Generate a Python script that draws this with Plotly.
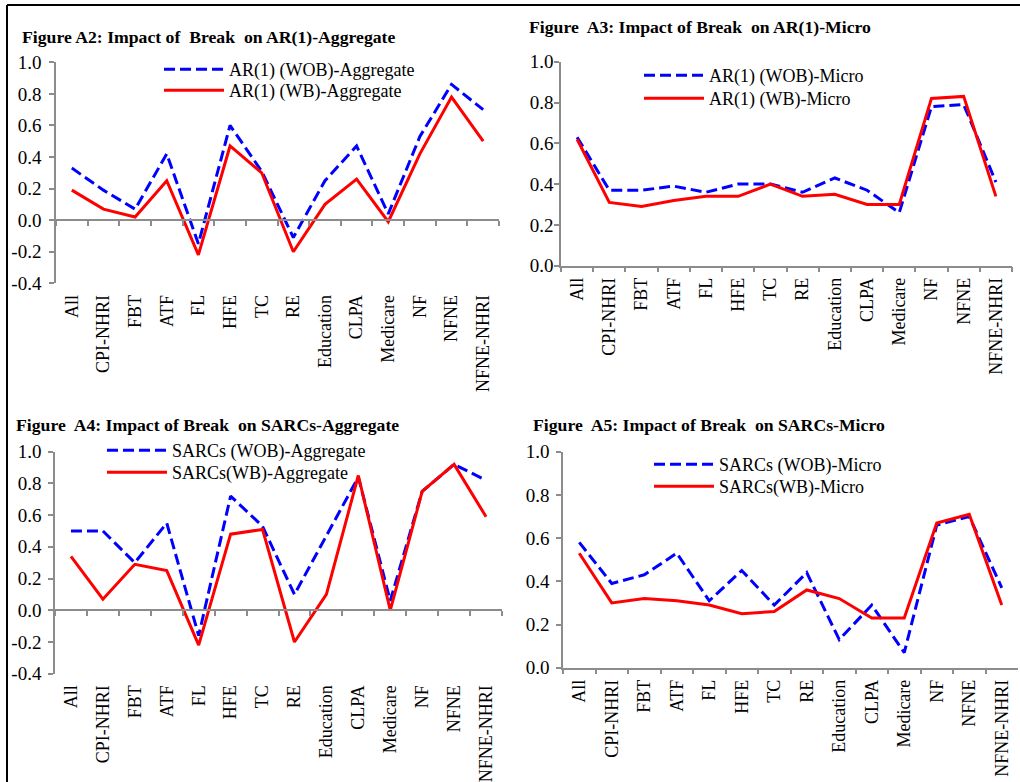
import plotly.graph_objects as go

categories = ["All", "CPI-NHRI", "FBT", "ATF", "FL", "HFE", "TC", "RE",
              "Education", "CLPA", "Medicare", "NF", "NFNE", "NFNE-NHRI"]

ar1_agg_wob = [0.33, 0.19, 0.07, 0.42, -0.15, 0.60, 0.31, -0.11, 0.25, 0.47, 0.04, 0.53, 0.86, 0.70]
ar1_agg_wb = [0.19, 0.07, 0.02, 0.25, -0.22, 0.47, 0.30, -0.20, 0.10, 0.26, -0.01, 0.42, 0.78, 0.50]
ar1_mic_wob = [0.63, 0.37, 0.37, 0.39, 0.36, 0.40, 0.40, 0.36, 0.43, 0.37, 0.26, 0.78, 0.79, 0.41]
ar1_mic_wb = [0.62, 0.31, 0.29, 0.32, 0.34, 0.34, 0.40, 0.34, 0.35, 0.30, 0.30, 0.82, 0.83, 0.34]
sarc_agg_wob = [0.50, 0.50, 0.30, 0.55, -0.16, 0.72, 0.53, 0.10, 0.47, 0.84, 0.06, 0.75, 0.92, 0.82]
sarc_agg_wb = [0.34, 0.07, 0.29, 0.25, -0.22, 0.48, 0.51, -0.20, 0.10, 0.85, 0.00, 0.75, 0.92, 0.59]
sarc_mic_wob = [0.58, 0.39, 0.43, 0.53, 0.31, 0.45, 0.29, 0.44, 0.13, 0.29, 0.07, 0.66, 0.70, 0.37]
sarc_mic_wb = [0.53, 0.30, 0.32, 0.31, 0.29, 0.25, 0.26, 0.36, 0.32, 0.23, 0.23, 0.67, 0.71, 0.29]

ytick_vals_agg = [-0.4, -0.2, 0.0, 0.2, 0.4, 0.6, 0.8, 1.0]
ytick_text_agg = ["-0.4", "-0.2", "0.0", "0.2", "0.4", "0.6", "0.8", "1.0"]
ytick_vals_mic = [0.0, 0.2, 0.4, 0.6, 0.8, 1.0]
ytick_text_mic = ["0.0", "0.2", "0.4", "0.6", "0.8", "1.0"]

titles = ["Figure A2: Impact of  Break  on AR(1)-Aggregate",
          "Figure  A3: Impact of Break  on AR(1)-Micro",
          "Figure  A4: Impact of Break  on SARCs-Aggregate",
          "Figure  A5: Impact of Break  on SARCs-Micro"]
names_wob = ["AR(1) (WOB)-Aggregate", "AR(1) (WOB)-Micro",
             "SARCs (WOB)-Aggregate", "SARCs (WOB)-Micro"]
names_wb = ["AR(1) (WB)-Aggregate", "AR(1) (WB)-Micro",
            "SARCs(WB)-Aggregate", "SARCs(WB)-Micro"]
wob_series = [ar1_agg_wob, ar1_mic_wob, sarc_agg_wob, sarc_mic_wob]
wb_series = [ar1_agg_wb, ar1_mic_wb, sarc_agg_wb, sarc_mic_wb]

W, H = 1020, 782
FONT = "Liberation Serif, Times New Roman, serif"
GRAY = "#8c8c8c"
BLUE = "#0000ff"
RED = "#ff0000"


def px(x):
    return x / W


def py(y):
    return 1 - y / H


# panel layout in pixels
panels = [
    dict(x0=56, x1=499, yt=62.3, yb=283.3, rng=[-0.4, 1.0], leg_x=163, leg_rows=(71, 92), tit=(22, 37), ysoff=4),
    dict(x0=561, x1=1012, yt=61.7, yb=265.7, rng=[0.0, 1.0], leg_x=643, leg_rows=(77, 100), tit=(529, 27), ysoff=-3),
    dict(x0=55, x1=502, yt=451.7, yb=673.7, rng=[-0.4, 1.0], leg_x=106, leg_rows=(452, 474), tit=(16, 425), ysoff=3),
    dict(x0=563, x1=1018, yt=451.7, yb=667.7, rng=[0.0, 1.0], leg_x=653, leg_rows=(466, 488), tit=(533, 425), ysoff=3),
]

fig = go.Figure()
layout = dict(
    width=W, height=H,
    margin=dict(l=0, r=0, t=0, b=0, autoexpand=False),
    paper_bgcolor="white", plot_bgcolor="white",
    font=dict(family=FONT, size=18, color="black"),
    showlegend=True,
    annotations=[], shapes=[],
)

for i, p in enumerate(panels):
    n = i + 1
    xa = "x" if n == 1 else f"x{n}"
    ya = "y" if n == 1 else f"y{n}"
    xkey = "xaxis" if n == 1 else f"xaxis{n}"
    ykey = "yaxis" if n == 1 else f"yaxis{n}"
    leg_a = "legend" if n == 1 else f"legend{2 * n - 1}"
    leg_b = f"legend{2 * n}"
    has_neg = p["rng"][0] < 0
    xdom = [px(p["x0"]), px(p["x1"])]
    ydom = [py(p["yb"]), py(p["yt"])]

    n2 = n + 4
    xa2 = f"x{n2}"
    xkey2 = f"xaxis{n2}"

    fig.add_trace(go.Scatter(
        x=categories, y=wob_series[i], mode="lines", name=names_wob[i],
        line=dict(color=BLUE, width=3, dash="11px,5px"),
        xaxis=xa, yaxis=ya, legend=leg_a, showlegend=True, hoverinfo="x+y",
    ))
    fig.add_trace(go.Scatter(
        x=categories, y=wb_series[i], mode="lines", name=names_wb[i],
        line=dict(color=RED, width=3),
        xaxis=xa2, yaxis=ya, legend=leg_b, showlegend=True, hoverinfo="x+y",
    ))

    tv = ytick_vals_agg if has_neg else ytick_vals_mic
    tt = ytick_text_agg if has_neg else ytick_text_mic
    layout[ykey] = dict(
        domain=ydom, anchor=xa, range=p["rng"], automargin=False,
        tickmode="array", tickvals=tv, ticktext=tt,
        showgrid=False, zeroline=False,
        showline=True, linecolor=GRAY, linewidth=1.5,
        ticks="outside", ticklen=5, tickcolor=GRAY, tickwidth=1.5,
        ticklabelstandoff=p["ysoff"],
        tickfont=dict(family=FONT, size=19, color="black"),
    )
    rng_x = [-0.5, len(categories) - 0.5]
    if has_neg:
        layout[xkey] = dict(
            domain=xdom, anchor=ya, type="category", range=rng_x, automargin=False,
            categoryorder="array", categoryarray=categories,
            showline=False, showgrid=False, ticks="", tickangle=-90,
            ticklabelstandoff=7,
            tickfont=dict(family=FONT, size=18, color="black"),
        )
        zero_pos = ydom[0] + (0 - p["rng"][0]) / (p["rng"][1] - p["rng"][0]) * (ydom[1] - ydom[0])
        layout[xkey2] = dict(
            domain=xdom, overlaying=xa, anchor="free", position=zero_pos,
            type="category", range=rng_x, automargin=False,
            categoryorder="array", categoryarray=categories,
            showline=True, linecolor=GRAY, linewidth=1.5,
            showgrid=False, ticks="outside", tickson="boundaries",
            ticklen=5, tickcolor=GRAY, tickwidth=1.5,
            showticklabels=False,
        )
    else:
        layout[xkey] = dict(
            domain=xdom, anchor=ya, type="category", range=rng_x, automargin=False,
            categoryorder="array", categoryarray=categories,
            showline=True, linecolor=GRAY, linewidth=1.5,
            showgrid=False, ticks="outside", tickson="boundaries",
            ticklen=5, tickcolor=GRAY, tickwidth=1.5, tickangle=-90,
            ticklabelstandoff=3,
            tickfont=dict(family=FONT, size=18, color="black"),
        )
        layout[xkey2] = dict(
            domain=xdom, overlaying=xa, anchor=ya, type="category", range=rng_x,
            automargin=False,
            categoryorder="array", categoryarray=categories,
            showline=False, showgrid=False, ticks="", showticklabels=False,
        )

    for key, row_y in ((leg_a, p["leg_rows"][0]), (leg_b, p["leg_rows"][1])):
        layout[key] = dict(
            visible=True,
            x=px(p["leg_x"] - 4), y=py(row_y - 20), xanchor="left", yanchor="top",
            bgcolor="rgba(0,0,0,0)", borderwidth=0,
            font=dict(family=FONT, size=18, color="black"),
            itemwidth=60, tracegroupgap=0,
        )

    tx, ty = p["tit"]
    layout["annotations"].append(dict(
        text="<b>" + titles[i] + "</b>", xref="paper", yref="paper",
        x=px(tx - 2), y=py(ty), xanchor="left", yanchor="middle", showarrow=False,
        font=dict(family=FONT, size=17.7, color="black"),
    ))

# outer frame lines (top and left)
layout["shapes"].append(dict(type="line", xref="paper", yref="paper",
                             x0=px(7), x1=1, y0=py(5), y1=py(5),
                             line=dict(color="black", width=2)))
layout["shapes"].append(dict(type="line", xref="paper", yref="paper",
                             x0=px(7), x1=px(7), y0=py(5), y1=0,
                             line=dict(color="black", width=2)))

fig.update_layout(**layout)
fig.write_html(
    "out.html",
    config={"displayModeBar": False},
    post_script=(
        "document.documentElement.style.margin='0';"
        "document.documentElement.style.overflow='hidden';"
        "document.body.style.margin='0';document.body.style.padding='0';"
        "document.body.style.overflow='hidden';"
        "var gd=document.getElementById('{plot_id}');"
        "gd.style.position='fixed';gd.style.left='0px';gd.style.top='0px';"
    ),
)
